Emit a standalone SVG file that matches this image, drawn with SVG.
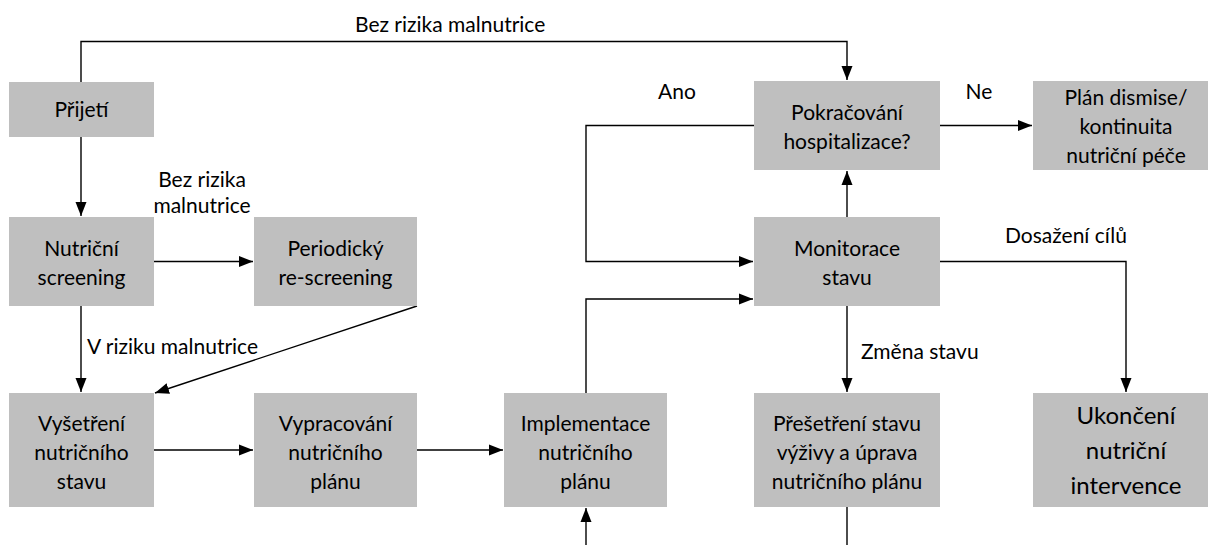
<svg xmlns="http://www.w3.org/2000/svg" width="1208" height="545" viewBox="0 0 1208 545">
<style>
.box{fill:#bfbfbf}
.t{font-family:Lato,"Liberation Sans",sans-serif;font-size:21px;fill:#000;text-anchor:middle}
.big{font-size:24px}
.l{font-family:Lato,"Liberation Sans",sans-serif;font-size:21px;fill:#000}
.c{fill:none;stroke:#000;stroke-width:1.4}
</style>
<defs>
<marker id="ah" markerUnits="userSpaceOnUse" markerWidth="14" markerHeight="12" refX="14" refY="6" orient="auto">
<path d="M0,0.5 L14,6 L0,11.5 z" fill="#000"/>
</marker>
</defs>
<g id="connectors">
<path class="c" d="M81,82 V41.5 H847 V80" marker-end="url(#ah)"/>
<path class="c" d="M81,137 V216" marker-end="url(#ah)"/>
<path class="c" d="M154,261.5 H253" marker-end="url(#ah)"/>
<path class="c" d="M81,306 V392" marker-end="url(#ah)"/>
<path class="c" d="M417,306 L155,393" marker-end="url(#ah)"/>
<path class="c" d="M154,450 H253" marker-end="url(#ah)"/>
<path class="c" d="M417,450 H503" marker-end="url(#ah)"/>
<path class="c" d="M586,393 V299 H753" marker-end="url(#ah)"/>
<path class="c" d="M847,217 V171" marker-end="url(#ah)"/>
<path class="c" d="M754,125.5 H586 V261.5 H753" marker-end="url(#ah)"/>
<path class="c" d="M940,125.5 H1032" marker-end="url(#ah)"/>
<path class="c" d="M940,261.5 H1126 V392" marker-end="url(#ah)"/>
<path class="c" d="M847,306 V392" marker-end="url(#ah)"/>
<path class="c" d="M847,507 V545"/>
<path class="c" d="M586,545 V508" marker-end="url(#ah)"/>
</g>
<g id="labels">
<text class="l" x="355" y="32">Bez rizika malnutrice</text>
<text class="t" x="202" y="187">Bez rizika</text>
<text class="t" x="202" y="213">malnutrice</text>
<text class="l" x="87" y="354">V riziku malnutrice</text>
<text class="t" x="677" y="99">Ano</text>
<text class="t" x="979" y="99">Ne</text>
<text class="l" x="1005" y="243">Dosažení cílů</text>
<text class="l" x="861" y="359">Změna stavu</text>
</g>
<g id="n-prijeti"><rect class="box" x="9" y="82" width="145" height="55"/><text class="t" x="81.5" y="117">Přijetí</text></g>
<g id="n-screening"><rect class="box" x="9" y="217" width="145" height="89"/><text class="t" x="81.5" y="256">Nutriční</text><text class="t" x="81.5" y="285">screening</text></g>
<g id="n-rescreening"><rect class="box" x="254" y="217" width="163" height="89"/><text class="t" x="335.5" y="256">Periodický</text><text class="t" x="335.5" y="285">re-screening</text></g>
<g id="n-pokracovani"><rect class="box" x="754" y="81" width="186" height="89"/><text class="t" x="847" y="120">Pokračování</text><text class="t" x="847" y="149">hospitalizace?</text></g>
<g id="n-plan"><rect class="box" x="1033" y="81" width="186" height="89"/><text class="t" x="1126" y="105">Plán dismise/</text><text class="t" x="1126" y="134">kontinuita</text><text class="t" x="1126" y="163">nutriční péče</text></g>
<g id="n-monitorace"><rect class="box" x="754" y="217" width="186" height="89"/><text class="t" x="847" y="256">Monitorace</text><text class="t" x="847" y="285">stavu</text></g>
<g id="n-vysetreni"><rect class="box" x="9" y="393" width="145" height="114"/><text class="t" x="81.5" y="431">Vyšetření</text><text class="t" x="81.5" y="460">nutričního</text><text class="t" x="81.5" y="489">stavu</text></g>
<g id="n-vypracovani"><rect class="box" x="254" y="393" width="163" height="114"/><text class="t" x="335.5" y="431">Vypracování</text><text class="t" x="335.5" y="460">nutričního</text><text class="t" x="335.5" y="489">plánu</text></g>
<g id="n-implementace"><rect class="box" x="504" y="393" width="163" height="114"/><text class="t" x="585.5" y="431">Implementace</text><text class="t" x="585.5" y="460">nutričního</text><text class="t" x="585.5" y="489">plánu</text></g>
<g id="n-presetreni"><rect class="box" x="754" y="393" width="186" height="114"/><text class="t" x="847" y="431">Přešetření stavu</text><text class="t" x="847" y="460">výživy a úprava</text><text class="t" x="847" y="489">nutričního plánu</text></g>
<g id="n-ukonceni"><rect class="box" x="1033" y="393" width="186" height="114"/><text class="t big" x="1126" y="424">Ukončení</text><text class="t big" x="1126" y="459">nutriční</text><text class="t big" x="1126" y="494">intervence</text></g>
</svg>
